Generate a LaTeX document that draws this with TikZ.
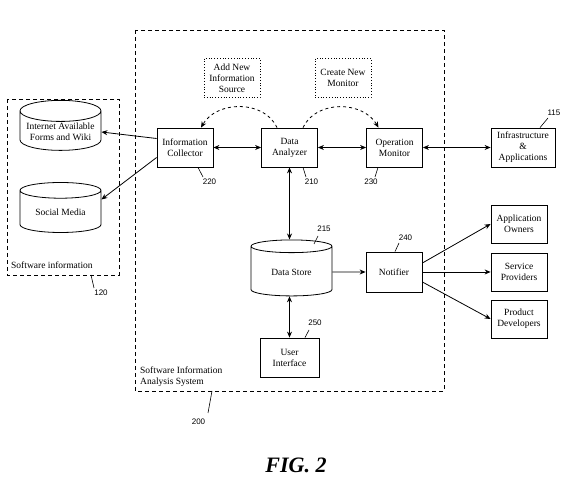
\documentclass[tikz,border=0pt]{standalone}
\usepackage{fontspec}
\setmainfont{Liberation Serif}
\newfontfamily\numfont{Liberation Sans}
\usetikzlibrary{arrows.meta,shapes.geometric}

\tikzset{
  block/.style={draw, line width=0.8pt, minimum width=56pt, minimum height=39pt,
    align=center, inner sep=1pt, font=\fontsize{9.5}{11}\selectfont},
  idea/.style={block, dotted},
  store/.style={draw, line width=0.8pt, cylinder, shape border rotate=90, aspect=0.3,
    minimum width=81pt, minimum height=50pt, align=center, inner sep=1pt,
    font=\fontsize{9.5}{11}\selectfont},
  ref/.style={font=\numfont\fontsize{8}{9}\selectfont, inner sep=0pt},
  lead/.style={line width=0.6pt},
  arr/.style={line width=0.8pt, -{Stealth[length=6pt,width=5pt]}},
  biarr/.style={line width=0.8pt, {Stealth[length=6pt,width=5pt]}-{Stealth[length=6pt,width=5pt]}},
  group/.style={draw, line width=0.8pt, dash pattern=on 4pt off 3pt}
}

\begin{document}
\begin{tikzpicture}[x=1pt,y=1pt]
  \useasboundingbox (0,0) rectangle (583,489);

  % system and source groups
  \draw[group] (135,459) rectangle (444,98);
  \draw[group] (7,390) rectangle (119,214);
  \node[anchor=west, align=left, inner sep=0pt, font=\fontsize{9.5}{11}\selectfont] (sysname) at (140,112.5) {Software Information\\ Analysis System};
  \node[anchor=west, inner sep=0pt, font=\fontsize{9.5}{11}\selectfont] (srcname) at (11,224) {Software information};

  % sources
  \node[store] (web) at (60.5,357) {Internet Available\\Forms and Wiki};
  \node[store] (social) at (60.5,276.5) {Social Media};

  % main row
  \node[block] (collector) at (185,341.5) {Information\\Collector};
  \node[block] (analyzer) at (289.5,341.5) {Data\\Analyzer};
  \node[block] (monitor) at (394.5,341.5) {Operation\\Monitor};
  \node[block, minimum width=64pt] (infra) at (523,341.5) {Infrastructure\\\&\\Applications};
  \node[idea] (addsrc) at (232,411) {Add New\\Information\\Source};
  \node[idea] (newmon) at (343,411) {Create New\\Monitor};

  % storage and notification
  \node[store, minimum height=56pt] (datastore) at (291.5,217) {Data Store};
  \node[block, minimum height=40pt] (notifier) at (394,217) {Notifier};
  \node[block, minimum width=59pt] (ui) at (289.5,131.5) {User\\Interface};
  \node[block, minimum height=38pt] (owners) at (519,265) {Application\\Owners};
  \node[block, minimum height=38pt] (providers) at (519,217) {Service\\Providers};
  \node[block, minimum height=38pt] (developers) at (519,170) {Product\\Developers};

  % connectors
  \draw[arr] ([yshift=9pt]collector.west) -- (web.east);
  \draw[arr] ([yshift=-10pt]collector.west) -- ([yshift=13pt]social.east);
  \draw[biarr] (collector) -- (analyzer);
  \draw[biarr] (analyzer) -- (monitor);
  \draw[biarr] (monitor) -- (infra);
  \draw[arr, dashed] ([xshift=-12.5pt]analyzer.north) to[out=115, in=60, looseness=1.05] ([xshift=16pt]collector.north);
  \draw[arr, dashed] ([xshift=13.5pt]analyzer.north) to[out=65, in=120, looseness=1.05] ([xshift=-16pt]monitor.north);
  \draw[biarr] (analyzer.south) -- (analyzer.south |- datastore.north);
  \draw[biarr] (ui.north) -- (ui.north |- datastore.south);
  \draw[arr] (datastore.east) -- (notifier.west);
  \draw[arr] ([yshift=9pt]notifier.east) -- (owners.west);
  \draw[arr] (notifier.east) -- (providers.west);
  \draw[arr] ([yshift=-10pt]notifier.east) -- (developers.west);

  % reference numerals
  \node[ref] (n220) at (209.5,307) {220};
  \draw[lead] ([xshift=13pt]collector.south) -- (203,312);
  \node[ref] (n210) at (311.5,307) {210};
  \draw[lead] ([xshift=13.5pt]analyzer.south) -- (306,312);
  \node[ref] (n230) at (371,307) {230};
  \draw[lead] ([xshift=-16.5pt]monitor.south) -- (375,312);
  \node[ref] (n115) at (554,376) {115};
  \draw[lead] ([xshift=17pt]infra.north) -- (548,371);
  \node[ref] (n215) at (324,260) {215};
  \draw[lead] (314,245) -- (318,253);
  \node[ref] (n240) at (405.5,251) {240};
  \draw[lead] ([xshift=1pt]notifier.north) -- (399,246);
  \node[ref] (n250) at (315,166) {250};
  \draw[lead] ([xshift=15.5pt]ui.north) -- (309,159);
  \node[ref] (n120) at (101,196) {120};
  \draw[lead] (91,214) -- (94,201);
  \node[ref] (n200) at (198.5,67) {200};
  \draw[lead] (212,98) -- (208,76);

  \node[font=\fontsize{22}{24}\selectfont\bfseries\itshape] (fig) at (296,24) {FIG. 2};
\end{tikzpicture}
\end{document}
